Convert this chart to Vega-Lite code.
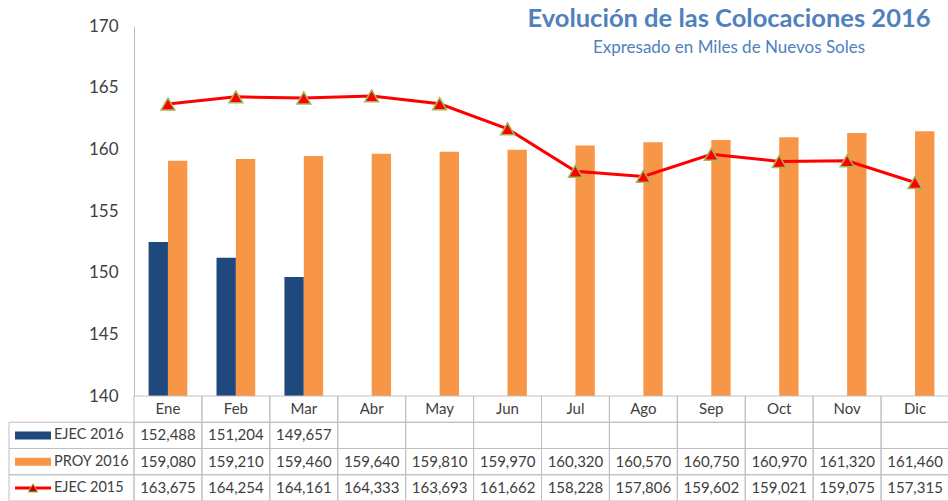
{
  "$schema": "https://vega.github.io/schema/vega-lite/v6.json",
  "padding": {"left": 8, "top": 6, "right": 0, "bottom": 0},
  "background": "white",
  "config": {"view": {"stroke": null}, "font": "Lato"},
  "title": {
    "text": "Evolución de las Colocaciones 2016",
    "subtitle": "Expresado en Miles de Nuevos Soles",
    "anchor": "middle",
    "dx": 250,
    "offset": -39,
    "font": "Lato",
    "fontSize": 25.5,
    "fontWeight": "bold",
    "color": "#4F81BD",
    "subtitleFont": "Lato",
    "subtitleFontSize": 17,
    "subtitleColor": "#4F81BD",
    "subtitlePadding": 8
  },
  "datasets": {
    "d": [
      {"month": "Ene", "series": "EJEC 2016", "value": 152488},
      {"month": "Feb", "series": "EJEC 2016", "value": 151204},
      {"month": "Mar", "series": "EJEC 2016", "value": 149657},
      {"month": "Abr", "series": "EJEC 2016", "value": null},
      {"month": "May", "series": "EJEC 2016", "value": null},
      {"month": "Jun", "series": "EJEC 2016", "value": null},
      {"month": "Jul", "series": "EJEC 2016", "value": null},
      {"month": "Ago", "series": "EJEC 2016", "value": null},
      {"month": "Sep", "series": "EJEC 2016", "value": null},
      {"month": "Oct", "series": "EJEC 2016", "value": null},
      {"month": "Nov", "series": "EJEC 2016", "value": null},
      {"month": "Dic", "series": "EJEC 2016", "value": null},
      {"month": "Ene", "series": "PROY 2016", "value": 159080},
      {"month": "Feb", "series": "PROY 2016", "value": 159210},
      {"month": "Mar", "series": "PROY 2016", "value": 159460},
      {"month": "Abr", "series": "PROY 2016", "value": 159640},
      {"month": "May", "series": "PROY 2016", "value": 159810},
      {"month": "Jun", "series": "PROY 2016", "value": 159970},
      {"month": "Jul", "series": "PROY 2016", "value": 160320},
      {"month": "Ago", "series": "PROY 2016", "value": 160570},
      {"month": "Sep", "series": "PROY 2016", "value": 160750},
      {"month": "Oct", "series": "PROY 2016", "value": 160970},
      {"month": "Nov", "series": "PROY 2016", "value": 161320},
      {"month": "Dic", "series": "PROY 2016", "value": 161460},
      {"month": "Ene", "series": "EJEC 2015", "value": 163675},
      {"month": "Feb", "series": "EJEC 2015", "value": 164254},
      {"month": "Mar", "series": "EJEC 2015", "value": 164161},
      {"month": "Abr", "series": "EJEC 2015", "value": 164333},
      {"month": "May", "series": "EJEC 2015", "value": 163693},
      {"month": "Jun", "series": "EJEC 2015", "value": 161662},
      {"month": "Jul", "series": "EJEC 2015", "value": 158228},
      {"month": "Ago", "series": "EJEC 2015", "value": 157806},
      {"month": "Sep", "series": "EJEC 2015", "value": 159602},
      {"month": "Oct", "series": "EJEC 2015", "value": 159021},
      {"month": "Nov", "series": "EJEC 2015", "value": 159075},
      {"month": "Dic", "series": "EJEC 2015", "value": 157315}
    ],
    "s": [
      {"series": "EJEC 2016"},
      {"series": "PROY 2016"},
      {"series": "EJEC 2015"}
    ],
    "blank": [{"k": 1}]
  },
  "columns": 2,
  "align": "each",
  "bounds": "flush",
  "spacing": 0,
  "concat": [
    {
      "width": 125,
      "height": 370,
      "data": {"name": "blank"},
      "mark": {"type": "text", "text": ""},
      "encoding": {}
    },
    {
      "width": 815,
      "height": 370,
      "data": {"name": "d"},
      "layer": [
        {
          "transform": [{"filter": "datum.series !== 'EJEC 2015' && datum.value != null"}],
          "mark": {"type": "bar"},
          "encoding": {
            "x": {"field": "month", "type": "nominal", "scale": {"domain": ["Ene","Feb","Mar","Abr","May","Jun","Jul","Ago","Sep","Oct","Nov","Dic"], "paddingInner": 0.43, "paddingOuter": 0.215}, "axis": null},
            "xOffset": {"field": "series", "type": "nominal", "scale": {"domain": ["EJEC 2016", "PROY 2016"], "paddingInner": 0, "paddingOuter": 0}},
            "y": {"field": "value", "type": "quantitative", "scale": {"domain": [140000, 170000], "zero": false, "nice": false},
              "axis": {"values": [140000,145000,150000,155000,160000,165000,170000], "labelExpr": "format(datum.value/1000,'d')", "title": null, "ticks": false, "grid": false, "domainColor": "#BFBFBF", "labelFont": "Lato", "labelFontSize": 17, "labelColor": "#404040", "labelPadding": 16}},
            "y2": {"datum": 140000},
            "color": {"field": "series", "type": "nominal", "scale": {"domain": ["EJEC 2016", "PROY 2016", "EJEC 2015"], "range": ["#1F497D", "#F79646", "#FF0000"]}, "legend": null}
          }
        },
        {
          "transform": [{"filter": "datum.series === 'EJEC 2015'"}],
          "mark": {"type": "line", "color": "#FF0000", "strokeWidth": 3},
          "encoding": {
            "x": {"field": "month", "type": "nominal"},
            "y": {"field": "value", "type": "quantitative"}
          }
        },
        {
          "transform": [{"filter": "datum.series === 'EJEC 2015'"}],
          "mark": {"type": "point", "shape": "triangle-up", "filled": true, "fill": "#FF0000", "stroke": "#9BBB59", "strokeWidth": 1.5, "size": 190, "opacity": 1},
          "encoding": {
            "x": {"field": "month", "type": "nominal"},
            "y": {"field": "value", "type": "quantitative"}
          }
        }
      ]
    },
    {
      "width": 125,
      "height": 105,
      "data": {"name": "s"},
      "encoding": {
        "y": {"field": "series", "type": "nominal", "scale": {"domain": ["hdr", "EJEC 2016", "PROY 2016", "EJEC 2015"], "paddingInner": 0, "paddingOuter": 0}, "axis": null}
      },
      "layer": [
        {"mark": {"type": "rect", "filled": false, "stroke": "#BFBFBF", "strokeWidth": 1}},
        {
          "transform": [{"filter": "datum.series !== 'EJEC 2015'"}],
          "mark": {"type": "rule", "strokeWidth": 8},
          "encoding": {
            "x": {"datum": 0.048, "type": "quantitative", "scale": {"domain": [0, 1], "zero": false, "nice": false}, "axis": null},
            "x2": {"datum": 0.336},
            "color": {"field": "series", "type": "nominal", "scale": {"domain": ["EJEC 2016", "PROY 2016", "EJEC 2015"], "range": ["#1F497D", "#F79646", "#FF0000"]}, "legend": null}
          }
        },
        {
          "transform": [{"filter": "datum.series === 'EJEC 2015'"}],
          "mark": {"type": "rule", "strokeWidth": 3, "color": "#FF0000"},
          "encoding": {
            "x": {"datum": 0.048, "type": "quantitative"},
            "x2": {"datum": 0.336}
          }
        },
        {
          "transform": [{"filter": "datum.series === 'EJEC 2015'"}],
          "mark": {"type": "point", "shape": "triangle-up", "filled": true, "fill": "#C00000", "stroke": "#9BBB59", "strokeWidth": 1, "size": 90, "opacity": 1},
          "encoding": {
            "x": {"datum": 0.192, "type": "quantitative"}
          }
        },
        {
          "mark": {"type": "text", "align": "left", "font": "Lato", "fontSize": 14.5, "color": "#404040"},
          "encoding": {
            "x": {"datum": 0.36, "type": "quantitative"},
            "text": {"field": "series"}
          }
        }
      ]
    },
    {
      "width": 815,
      "height": 105,
      "data": {"name": "d"},
      "encoding": {
        "x": {"field": "month", "type": "nominal", "scale": {"domain": ["Ene","Feb","Mar","Abr","May","Jun","Jul","Ago","Sep","Oct","Nov","Dic"], "paddingInner": 0, "paddingOuter": 0}, "axis": null},
        "y": {"field": "series", "type": "nominal", "scale": {"domain": ["hdr", "EJEC 2016", "PROY 2016", "EJEC 2015"], "paddingInner": 0, "paddingOuter": 0}, "axis": null}
      },
      "layer": [
        {"mark": {"type": "rect", "filled": false, "stroke": "#BFBFBF", "strokeWidth": 1}},
        {
          "transform": [{"filter": "datum.series === 'PROY 2016'"}],
          "mark": {"type": "rect", "filled": false, "stroke": "#BFBFBF", "strokeWidth": 1},
          "encoding": {"y": {"datum": "hdr"}}
        },
        {
          "transform": [{"filter": "datum.series === 'PROY 2016'"}],
          "mark": {"type": "text", "font": "Lato", "fontSize": 15, "color": "#404040"},
          "encoding": {"y": {"datum": "hdr"}, "text": {"field": "month"}}
        },
        {
          "transform": [{"filter": "datum.value != null"}],
          "mark": {"type": "text", "font": "Lato", "fontSize": 15, "color": "#404040"},
          "encoding": {"text": {"field": "value", "type": "quantitative", "format": ",.0f"}}
        }
      ]
    }
  ]
}
